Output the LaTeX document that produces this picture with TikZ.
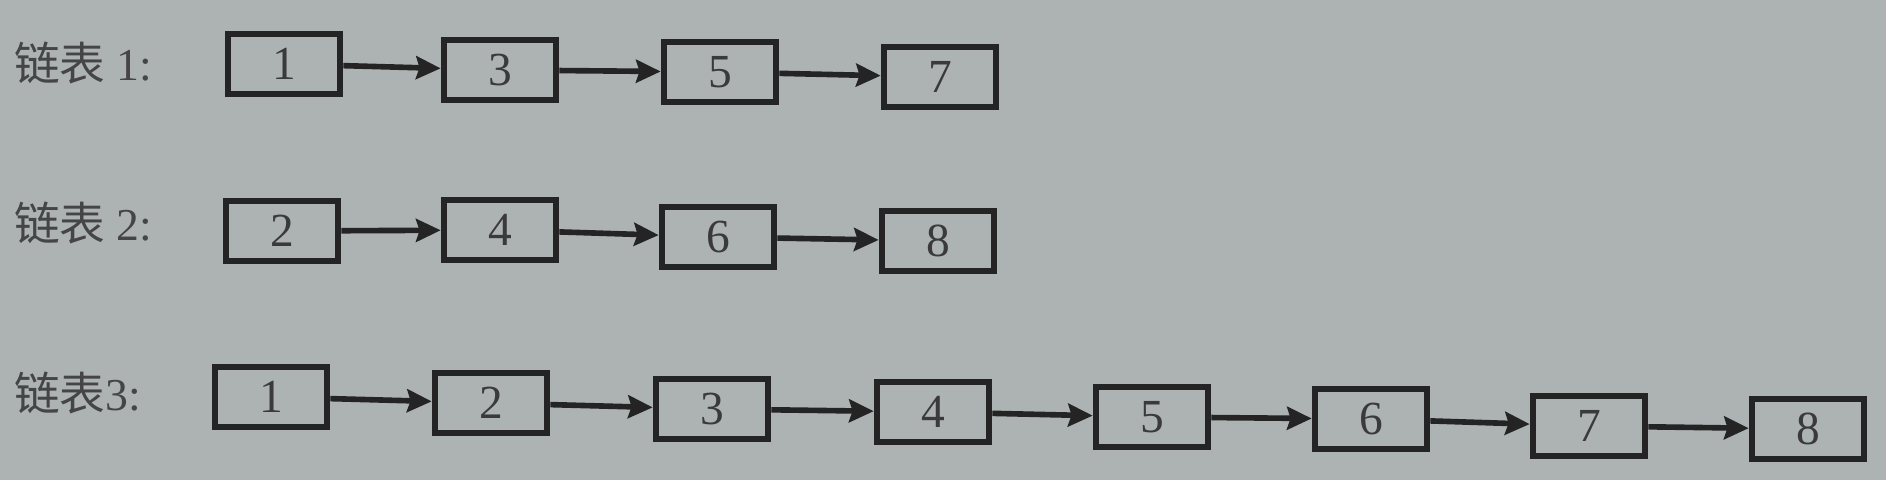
\documentclass[tikz,border=0pt]{standalone}
\usepackage{fontspec}
\setmainfont{Liberation Serif}
\newfontfamily\cjk{Noto Sans CJK SC}
\usetikzlibrary{arrows.meta}
\definecolor{paper}{RGB}{172,179,178}
\definecolor{ink}{RGB}{36,36,36}

\begin{document}
\begin{tikzpicture}[
    x=0.02cm, y=-0.02cm,
    cell/.style={rectangle, draw=ink, line width=3.8pt, fill=paper, minimum width=2.24cm, minimum height=1.2cm, font=\fontsize{27}{30}\selectfont, text=ink!90},
    listname/.style={anchor=west, font=\fontsize{26}{30}\selectfont, text=ink!85},
    link/.style={-{Stealth[length=14pt, width=13pt, inset=2pt]}, line width=3.2pt, draw=ink}
]
    % Paper
    \fill[paper] (0,0) rectangle (1886,480);

    % Names
    \node[listname] (name1) at (8,63) {{\cjk 链表} 1:};
    \node[listname] (name2) at (8,223) {{\cjk 链表} 2:};
    \node[listname] (name3) at (8,393) {{\cjk 链表}3:};

    % List 1
    \foreach \v/\x/\y [count=\i] in {1/284/64, 3/500/70, 5/720/72, 7/940/77}
        \node[cell] (a\i) at (\x,\y) {\v};
    \foreach \i [count=\j from 2] in {1,2,3}
        \draw[link] (a\i) -- (a\j);

    % List 2
    \foreach \v/\x/\y [count=\i] in {2/282/231, 4/500/230, 6/718/237, 8/938/241}
        \node[cell] (b\i) at (\x,\y) {\v};
    \foreach \i [count=\j from 2] in {1,2,3}
        \draw[link] (b\i) -- (b\j);

    % List 3 (merged)
    \foreach \v/\x/\y [count=\i] in {1/271/397, 2/491/403, 3/712/409, 4/933/412, 5/1152/417, 6/1371/419, 7/1589/426, 8/1808/429}
        \node[cell] (c\i) at (\x,\y) {\v};
    \foreach \i [count=\j from 2] in {1,...,7}
        \draw[link] (c\i) -- (c\j);
\end{tikzpicture}
\end{document}
